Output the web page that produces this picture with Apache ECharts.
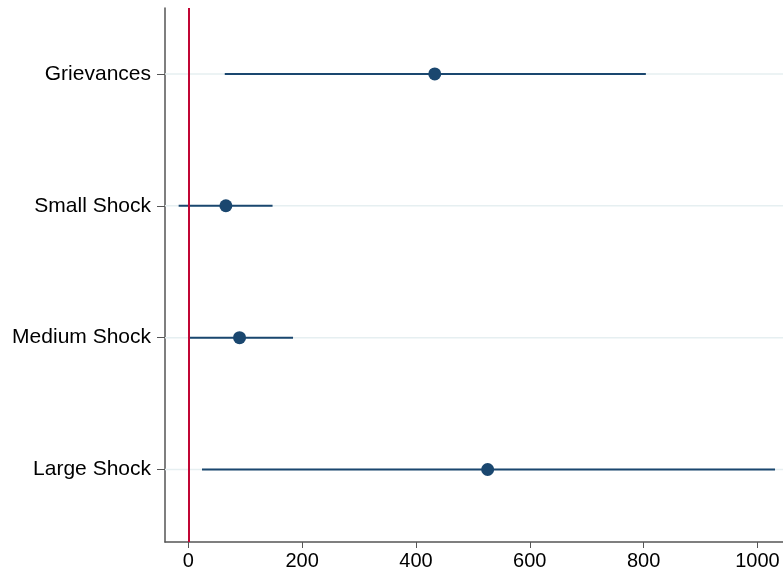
<!DOCTYPE html>
<html><head><meta charset="utf-8">
<script src="https://cdn.jsdelivr.net/npm/echarts@6/dist/echarts.min.js"></script>
<style>html,body{margin:0;padding:0;background:#fff}#c{width:783px;height:571px}</style>
</head><body><div id="c"></div>
<script>
const categories = ['Grievances', 'Small Shock', 'Medium Shock', 'Large Shock'];
const estimates = [433, 66, 90, 526];
const lower = [64, -17, 0, 24];
const upper = [804, 148, 184, 1031];
const xTicks = [0, 200, 400, 600, 800, 1000];

const pos = categories.map((c, i) => i + 1);
const ciData = categories.map((c, i) => [lower[i], upper[i], pos[i]]);
const ptData = categories.map((c, i) => [estimates[i], pos[i]]);

const chart = echarts.init(document.getElementById('c'), null, {renderer: 'canvas'});
chart.setOption({
  animation: false,
  grid: {left: 165, right: 0, top: 8, bottom: 29, containLabel: false},
  xAxis: {
    type: 'value', min: -41, max: 1045,
    axisLine: {show: true, onZero: false, lineStyle: {color: '#555', width: 1.5}},
    axisTick: {show: true, length: 6, customValues: xTicks, lineStyle: {color: '#555'}},
    axisLabel: {customValues: xTicks, color: '#000', fontSize: 20, fontFamily: 'Liberation Sans, Arial', margin: 9,
      formatter: v => String(v)},
    splitLine: {show: false}
  },
  yAxis: {
    type: 'value', min: 0.5, max: 4.55, inverse: true,
    axisLine: {show: true, onZero: false, lineStyle: {color: '#555', width: 1.5}},
    axisTick: {show: true, length: 8, customValues: pos, lineStyle: {color: '#555'}},
    axisLabel: {customValues: pos, color: '#000', fontSize: 21, fontFamily: 'Liberation Sans, Arial', margin: 14,
      formatter: v => categories[Math.round(v) - 1] || ''},
    splitLine: {show: false}
  },
  series: [
    {
      type: 'custom',
      data: pos.map(p => [p]),
      renderItem: (params, api) => {
        const p = api.value(0);
        const a = api.coord([-41, p]);
        const b = api.coord([1045, p]);
        return {type: 'line', shape: {x1: a[0], y1: a[1], x2: b[0], y2: b[1]},
          style: {stroke: '#e6eff1', lineWidth: 1.5}, silent: true};
      },
      encode: {y: 0}, z: 1
    },
    {
      type: 'custom',
      data: ciData,
      renderItem: (params, api) => {
        const a = api.coord([api.value(0), api.value(2)]);
        const b = api.coord([api.value(1), api.value(2)]);
        return {type: 'line', shape: {x1: a[0], y1: a[1], x2: b[0], y2: b[1]},
          style: {stroke: '#1a476f', lineWidth: 2}};
      },
      encode: {x: [0, 1], y: 2}, z: 3
    },
    {
      type: 'scatter',
      data: ptData,
      symbol: 'circle', symbolSize: 13,
      itemStyle: {color: '#1a476f', opacity: 1},
      z: 4,
      markLine: {
        silent: true, symbol: 'none', label: {show: false},
        lineStyle: {color: '#c10534', width: 2, type: 'solid'},
        data: [{xAxis: 0}]
      }
    }
  ]
});
</script></body></html>
